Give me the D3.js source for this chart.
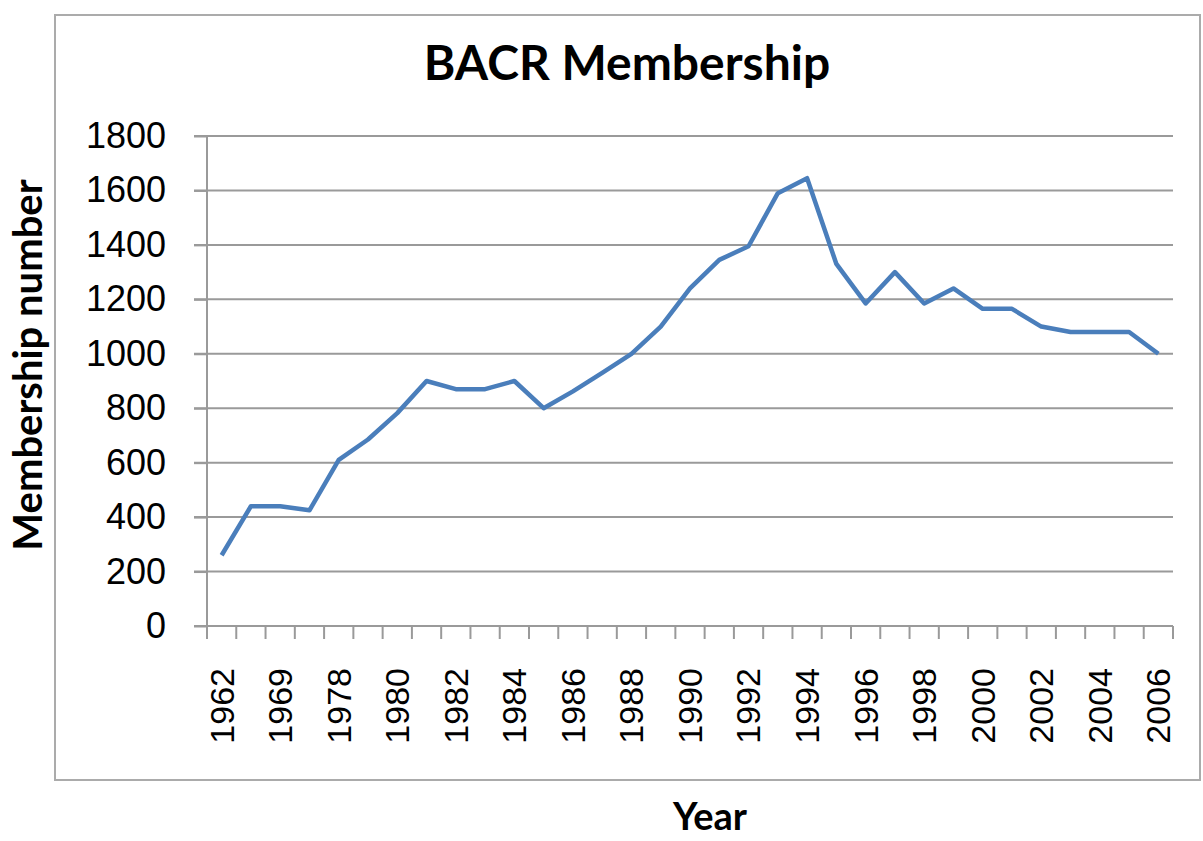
<!DOCTYPE html>
<html>
<head>
<meta charset="utf-8">
<script src="https://cdn.jsdelivr.net/npm/d3@7"></script>
<style>
  body { margin: 0; background: #fff; }
  .tick-label { font-family: "Liberation Sans", Arial, sans-serif; fill: #000; }
  .bold-label { font-family: Lato, "Open Sans", sans-serif; font-weight: bold; fill: #000; }
</style>
</head>
<body>
<div class="chart"></div>
<script>
// BACR membership by year
var years = ["1962", "1966", "1969", "1974", "1978", "1979", "1980", "1981", "1982", "1983",
    "1984", "1985", "1986", "1987", "1988", "1989", "1990", "1991", "1992", "1993",
    "1994", "1995", "1996", "1997", "1998", "1999", "2000", "2001", "2002", "2003",
    "2004", "2005", "2006"];
var members = [260, 440, 440, 425, 610, 685, 782, 900, 870, 870,
    900, 800, 862, 930, 1000, 1100, 1240, 1345, 1395, 1590,
    1645, 1330, 1185, 1300, 1185, 1240, 1165, 1165, 1100, 1080,
    1080, 1080, 1000];
var yTicks = [0, 200, 400, 600, 800, 1000, 1200, 1400, 1600, 1800];
var xLabels = years.filter(function(d, i) { return i % 2 === 0; });

var W = 1203, H = 841;
var plot = { left: 207, right: 1173, top: 136, bottom: 626 };

var svg = d3.select('.chart')
    .append('svg')
    .attr('width', W)
    .attr('height', H);

// outer chart frame
svg.append('rect')
    .attr('x', 55).attr('y', 15)
    .attr('width', 1145).attr('height', 765)
    .attr('fill', 'none')
    .attr('stroke', '#ababab')
    .attr('stroke-width', 2);

var x = d3.scaleBand()
    .domain(years)
    .range([plot.left, plot.right])
    .padding(0);

var y = d3.scaleLinear()
    .domain([0, 1800])
    .range([plot.bottom, plot.top]);

// gridlines
svg.append('g')
    .selectAll('line')
    .data(yTicks)
    .enter().append('line')
    .attr('x1', plot.left - 13)
    .attr('x2', plot.right)
    .attr('y1', function(d) { return y(d); })
    .attr('y2', function(d) { return y(d); })
    .attr('stroke', '#9a9a9a')
    .attr('stroke-width', 2);

// y axis
var yAxis = d3.axisLeft(y)
    .tickValues(yTicks)
    .tickSize(13)
    .tickPadding(28)
    .tickFormat(d3.format('d'));

var gy = svg.append('g')
    .attr('transform', 'translate(' + plot.left + ',0)')
    .call(yAxis);
gy.select('.domain').remove();
gy.selectAll('.tick line').attr('stroke', '#9a9a9a').attr('stroke-width', 2);
gy.selectAll('.tick text')
    .attr('class', 'tick-label')
    .style('font-size', '36px');

svg.append('line')
    .attr('x1', plot.left).attr('x2', plot.left)
    .attr('y1', y(1800)).attr('y2', plot.bottom + 13)
    .attr('stroke', '#9a9a9a')
    .attr('stroke-width', 2);

// x axis: ticks between categories, labels on every other one
var gx = svg.append('g')
    .attr('transform', 'translate(0,' + plot.bottom + ')');

gx.append('line')
    .attr('x1', plot.left).attr('x2', plot.right)
    .attr('stroke', '#9a9a9a')
    .attr('stroke-width', 2);

gx.selectAll('.xtick')
    .data(years.concat(['end']))
    .enter().append('line')
    .attr('class', 'xtick')
    .attr('x1', function(d) { return d === 'end' ? x.range()[1] : x(d); })
    .attr('x2', function(d) { return d === 'end' ? x.range()[1] : x(d); })
    .attr('y1', 0)
    .attr('y2', 13)
    .attr('stroke', '#9a9a9a')
    .attr('stroke-width', 2);

gx.selectAll('.xlabel')
    .data(xLabels)
    .enter().append('text')
    .attr('class', 'tick-label')
    .style('font-size', '34px')
    .attr('text-anchor', 'end')
    .attr('dy', '0.35em')
    .attr('transform', function(d) {
        return 'translate(' + (x(d) + x.bandwidth() / 2) + ',42) rotate(-90)';
    })
    .text(function(d) { return d; });

// line
var line = d3.line()
    .x(function(d, i) { return x(years[i]) + x.bandwidth() / 2; })
    .y(function(d) { return y(d); });

svg.append('path')
    .datum(members)
    .attr('fill', 'none')
    .attr('stroke', '#4a7ebb')
    .attr('stroke-width', 4.5)
    .attr('stroke-linejoin', 'round')
    .attr('d', line);

// titles
svg.append('text')
    .attr('class', 'bold-label')
    .attr('x', 627).attr('y', 80)
    .attr('text-anchor', 'middle')
    .style('font-size', '48px')
    .text('BACR Membership');

svg.append('text')
    .attr('class', 'bold-label')
    .attr('text-anchor', 'middle')
    .style('font-size', '40px')
    .attr('transform', 'translate(42,365) rotate(-90)')
    .text('Membership number');

svg.append('text')
    .attr('class', 'bold-label')
    .attr('x', 710).attr('y', 830)
    .attr('text-anchor', 'middle')
    .style('font-size', '38px')
    .text('Year');
</script>
</body>
</html>
